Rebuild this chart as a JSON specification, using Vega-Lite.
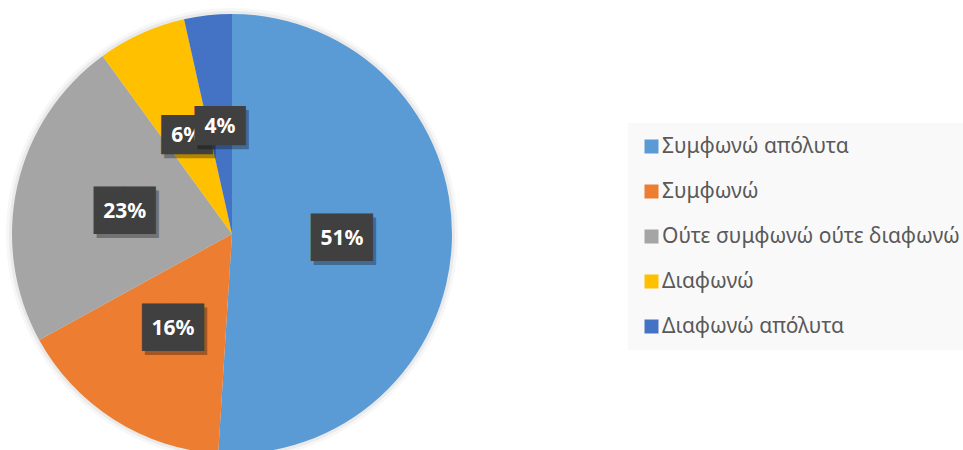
{
  "$schema": "https://vega.github.io/schema/vega-lite/v6.json",
  "width": 464,
  "height": 468,
  "padding": 0,
  "background": "white",
  "config": {"view": {"stroke": null}},
  "data": {
    "values": [
      {"category": "Συμφωνώ απόλυτα", "value": 51, "label": "51%", "rank": 1},
      {"category": "Συμφωνώ", "value": 16, "label": "16%", "rank": 2},
      {"category": "Ούτε συμφωνώ ούτε διαφωνώ", "value": 23, "label": "23%", "rank": 3},
      {"category": "Διαφωνώ", "value": 6.5, "label": "6%", "rank": 4},
      {"category": "Διαφωνώ απόλυτα", "value": 3.5, "label": "4%", "rank": 5}
    ]
  },
  "encoding": {
    "theta": {"field": "value", "type": "quantitative", "stack": true},
    "order": {"field": "rank", "type": "quantitative"}
  },
  "layer": [
    {
      "mark": {"type": "arc", "outerRadius": 226, "fill": "#000000", "opacity": 0.03},
      "encoding": {"detail": {"field": "category"}}
    },
    {
      "mark": {"type": "arc", "outerRadius": 223, "fill": "#000000", "opacity": 0.05},
      "encoding": {"detail": {"field": "category"}}
    },
    {
      "mark": {"type": "arc", "outerRadius": 220},
      "encoding": {
        "color": {
          "field": "category",
          "type": "nominal",
          "scale": {
            "domain": ["Συμφωνώ απόλυτα", "Συμφωνώ", "Ούτε συμφωνώ ούτε διαφωνώ", "Διαφωνώ", "Διαφωνώ απόλυτα"],
            "range": ["#5B9BD5", "#ED7D31", "#A5A5A5", "#FFC000", "#4472C4"]
          },
          "legend": {
            "title": null,
            "orient": "none",
            "legendX": 628,
            "legendY": 123,
            "padding": 13,
            "fillColor": "#f9f9f9",
            "strokeColor": null,
            "symbolType": "square",
            "symbolSize": 196,
            "symbolStrokeWidth": 0,
            "symbolOffset": 0,
            "labelFont": "Noto Sans",
            "labelFontSize": 21,
            "labelColor": "#595959",
            "labelOffset": 0,
            "labelLimit": 400,
            "rowPadding": 23
          }
        }
      }
    },
    {
      "mark": {"type": "text", "radius": 110, "font": "DejaVu Sans", "fill": "#000000", "opacity": 0.3, "dx": 3, "dy": 6, "align": "center", "baseline": "middle"},
      "encoding": {
        "detail": {"field": "category"},
        "size": {"condition": {"test": "length(datum.label) > 2", "value": 40}, "value": 33},
        "text": {"condition": {"test": "datum.rank == 5", "value": ""}, "value": "██"}
      }
    },
    {
      "mark": {"type": "text", "radius": 110, "font": "DejaVu Sans", "fill": "#404040", "dy": 2, "align": "center", "baseline": "middle"},
      "encoding": {
        "detail": {"field": "category"},
        "size": {"condition": {"test": "length(datum.label) > 2", "value": 40}, "value": 33},
        "text": {"condition": {"test": "datum.rank == 5", "value": ""}, "value": "██"}
      }
    },
    {
      "mark": {"type": "text", "radius": 110, "font": "Noto Sans", "fontSize": 21, "fontWeight": "bold", "fill": "white", "dy": 2, "align": "center", "baseline": "middle"},
      "encoding": {
        "detail": {"field": "category"},
        "text": {"field": "label", "condition": {"test": "datum.rank == 5", "value": ""}}
      }
    },
    {
      "mark": {"type": "text", "radius": 110, "font": "DejaVu Sans", "fontSize": 33, "fill": "#000000", "opacity": 0.3, "dx": 3, "dy": 6, "align": "center", "baseline": "middle"},
      "encoding": {
        "detail": {"field": "category"},
        "text": {"condition": {"test": "datum.rank == 5", "value": "██"}, "value": ""}
      }
    },
    {
      "mark": {"type": "text", "radius": 110, "font": "DejaVu Sans", "fontSize": 33, "fill": "#404040", "dy": 2, "align": "center", "baseline": "middle"},
      "encoding": {
        "detail": {"field": "category"},
        "text": {"condition": {"test": "datum.rank == 5", "value": "██"}, "value": ""}
      }
    },
    {
      "mark": {"type": "text", "radius": 110, "font": "Noto Sans", "fontSize": 21, "fontWeight": "bold", "fill": "white", "dy": 2, "align": "center", "baseline": "middle"},
      "encoding": {
        "detail": {"field": "category"},
        "text": {"field": "label", "condition": {"test": "datum.rank != 5", "value": ""}}
      }
    }
  ]
}
